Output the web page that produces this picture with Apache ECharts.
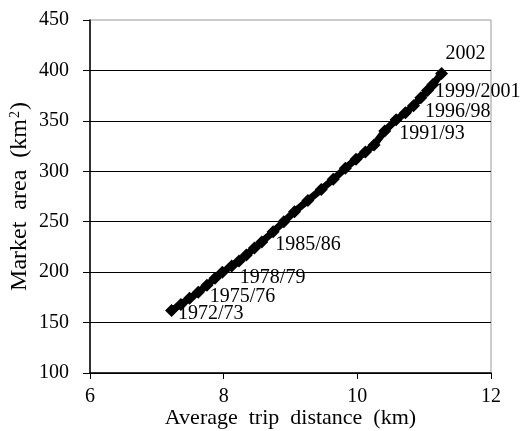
<!DOCTYPE html>
<html>
<head>
<meta charset="utf-8">
<script src="https://cdn.jsdelivr.net/npm/echarts@6/dist/echarts.min.js"></script>
<style>
  html, body { margin: 0; padding: 0; background: #fff; }
  #app { width: 520px; height: 431px; }
</style>
</head>
<body>
<div id="app"></div>
<script>
// average trip distance (km) and market area (km2), 1972/73 .. 2002
var distances = [7.22, 7.36, 7.49, 7.62, 7.75, 7.87, 7.98, 8.12, 8.23, 8.34, 8.46, 8.57,
                 8.74, 8.90, 9.06, 9.26, 9.46, 9.64, 9.82, 9.98, 10.12, 10.25, 10.41,
                 10.58, 10.72, 10.84, 10.95, 11.05, 11.13, 11.26];
var areas = [162, 168, 174, 180, 187, 194, 200, 206, 211, 217, 224, 230,
             240, 250, 260, 271, 282, 292, 303, 312, 319, 326, 340,
             351, 358, 365, 373, 380, 386, 397];
var pointLabels = ['1972/73', '', '', '1975/76', '', '', '1978/79', '', '', '', '', '1985/86',
                   '', '', '', '', '', '', '', '', '', '', '1991/93',
                   '', '', '1996/98', '', '1999/2001', '', '2002'];
var xTicks = [6, 8, 10, 12];
var yTicks = [100, 150, 200, 250, 300, 350, 400, 450];

// where each label sits relative to its point
var labelOffsets = {
  '1972/73': [-5, 3],
  '1975/76': [0, 4],
  '1978/79': [6, 6],
  '1985/86': [2, 3],
  '1991/93': [3, 3],
  '1996/98': [0, 6],
  '1999/2001': [-4, 1]
};

var font = 'Liberation Serif';

window.onload = function () {
  var myChart = echarts.init(document.getElementById('app'));

  var seriesData = [];
  for (var i = 0; i < distances.length; i++) {
    var item = { value: [distances[i], areas[i]] };
    var name = pointLabels[i];
    if (name) {
      if (name === '2002') {
        item.label = { show: true, formatter: name, position: 'top', offset: [24, 2] };
      } else {
        item.label = { show: true, formatter: name, position: 'right', offset: labelOffsets[name] };
      }
    }
    seriesData.push(item);
  }

  myChart.setOption({
    backgroundColor: '#fff',
    animation: false,
    textStyle: { fontFamily: font },
    grid: {
      left: 90,
      right: 29,
      top: 20,
      bottom: 58,
      outerBoundsMode: 'none',
      containLabel: false,
      show: true,
      borderColor: '#999',
      borderWidth: 1
    },
    xAxis: {
      type: 'value',
      min: xTicks[0],
      max: xTicks[xTicks.length - 1],
      interval: 2,
      name: 'Average  trip  distance  (km)',
      nameLocation: 'middle',
      nameGap: 34,
      nameMoveOverlap: false,
      nameTextStyle: { fontFamily: font, fontSize: 22, color: '#000' },
      axisLine: { lineStyle: { color: '#000', width: 1.5 } },
      axisTick: { show: true, length: 6, lineStyle: { color: '#000' } },
      axisLabel: { fontFamily: font, fontSize: 20, color: '#000', margin: 14 },
      splitLine: { show: false }
    },
    yAxis: {
      type: 'value',
      min: yTicks[0],
      max: yTicks[yTicks.length - 1],
      interval: 50,
      name: '{t|Market  area  (km}{s|2}{t|)}',
      nameLocation: 'middle',
      nameGap: 58,
      nameMoveOverlap: false,
      nameTextStyle: {
        fontFamily: font, fontSize: 24, color: '#000',
        rich: {
          t: { fontFamily: font, fontSize: 24, color: '#000' },
          s: { fontFamily: font, fontSize: 14, color: '#000', verticalAlign: 'top', padding: [0, 1, 10, 1] }
        }
      },
      axisLine: { show: true, lineStyle: { color: '#000', width: 1.5 } },
      axisTick: { show: true, length: 7, lineStyle: { color: '#000' } },
      axisLabel: { fontFamily: font, fontSize: 20, color: '#000', margin: 21 },
      splitLine: { show: true, showMaxLine: false, lineStyle: { color: '#000', width: 1 } }
    },
    series: [{
      type: 'line',
      data: seriesData,
      symbol: 'diamond',
      symbolSize: 13,
      showAllSymbol: true,
      lineStyle: { color: '#000', width: 7 },
      itemStyle: { color: '#000' },
      label: { fontFamily: font, fontSize: 20, color: '#000' }
    }]
  });
};
</script>
</body>
</html>
